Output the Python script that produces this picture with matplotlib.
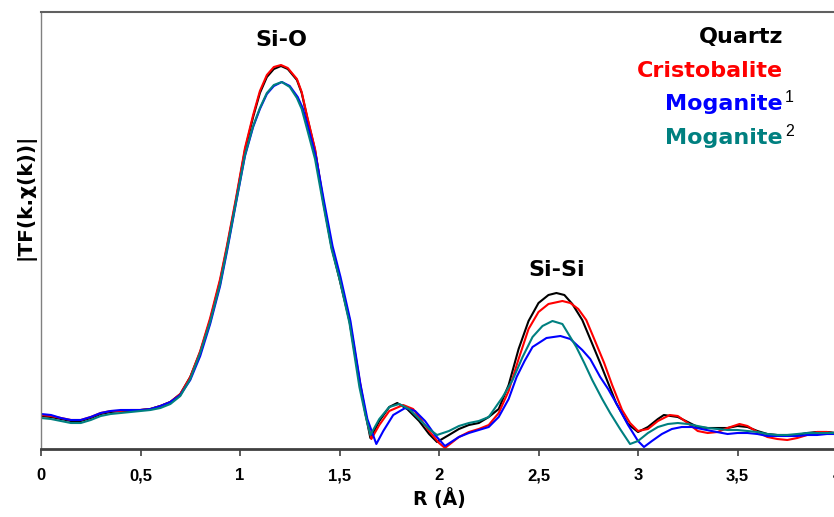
import matplotlib
matplotlib.use('Agg')
import matplotlib.pyplot as plt

plt.rcParams['font.family'] = ['DejaVu Sans']
plt.rcParams['font.weight'] = 'bold'

# R (Angstrom) and |TF| amplitude (arbitrary units)
r_quartz = [0, 0.05, 0.1, 0.15, 0.2, 0.25, 0.3, 0.35, 0.4, 0.45, 0.5, 0.55, 0.6, 0.65, 0.7,
            0.75, 0.8, 0.85, 0.9, 0.935, 0.98, 1.025, 1.066, 1.1, 1.135, 1.17, 1.206, 1.24,
            1.286, 1.31, 1.337, 1.377, 1.417, 1.46, 1.5, 1.55, 1.6, 1.63, 1.655,
            1.7, 1.75, 1.79, 1.84, 1.9, 1.95, 1.99, 2.05, 2.1, 2.15, 2.2, 2.25, 2.3, 2.35,
            2.4, 2.45, 2.5, 2.55, 2.59, 2.63, 2.67, 2.72, 2.76, 2.81, 2.85, 2.89, 2.95, 3.0,
            3.05, 3.1, 3.13, 3.2, 3.25, 3.3, 3.35, 3.4, 3.45, 3.5, 3.55, 3.6, 3.65, 3.7,
            3.75, 3.8, 3.85, 3.9, 3.95, 4.0]
a_quartz = [33, 32, 30, 28, 28, 31, 35, 37, 38, 38, 39, 40, 43, 47, 55,
            72, 97, 129, 168, 202, 249, 299, 332, 356, 372, 380, 383, 380,
            369, 356, 332, 299, 249, 202, 170, 128, 68, 36, 11,
            28, 42, 46, 40, 28, 15, 7, 14, 20, 24, 26, 32, 40, 64,
            100, 128, 146, 154, 156, 154, 145, 129, 110, 86, 66, 46, 25, 17,
            22, 30, 34, 32, 27, 22, 21, 21, 21, 23, 22, 18, 15, 14,
            14, 14, 16, 17, 17, 16]

r_cristo = [0, 0.05, 0.1, 0.15, 0.2, 0.25, 0.3, 0.35, 0.4, 0.45, 0.5, 0.55, 0.6, 0.65, 0.7,
            0.75, 0.8, 0.85, 0.9, 0.935, 0.98, 1.025, 1.066, 1.1, 1.135, 1.17, 1.206, 1.24,
            1.286, 1.31, 1.337, 1.377, 1.417, 1.46, 1.5, 1.55, 1.6, 1.63, 1.66,
            1.7, 1.75, 1.82, 1.87, 1.9, 1.95, 2.0, 2.03, 2.1, 2.15, 2.2, 2.25, 2.3, 2.35,
            2.4, 2.45, 2.5, 2.55, 2.62, 2.66, 2.7, 2.74, 2.78, 2.83, 2.87, 2.92, 2.96, 3.0,
            3.05, 3.1, 3.16, 3.2, 3.25, 3.3, 3.35, 3.4, 3.45, 3.51, 3.55, 3.6, 3.65, 3.7,
            3.75, 3.8, 3.85, 3.9, 3.95, 4.0]
a_cristo = [34, 33, 31, 29, 29, 32, 36, 38, 38, 39, 39, 40, 43, 47, 55,
            72, 98, 131, 170, 204, 251, 301, 334, 358, 374, 382, 384, 381,
            370, 357, 333, 300, 250, 203, 171, 130, 70, 36, 10,
            24, 38, 44, 40, 32, 18, 6, 1, 12, 17, 20, 24, 36, 58,
            90, 120, 137, 145, 148, 146, 140, 129, 110, 86, 64, 39, 26, 18,
            20, 28, 34, 33, 26, 18, 16, 17, 21, 25, 23, 17, 12, 10,
            9, 11, 14, 17, 17, 15]

r_mog1 = [0, 0.05, 0.1, 0.15, 0.2, 0.25, 0.3, 0.35, 0.4, 0.45, 0.5, 0.55, 0.6, 0.65, 0.7,
          0.75, 0.8, 0.85, 0.9, 0.935, 0.98, 1.025, 1.066, 1.1, 1.135, 1.17, 1.21, 1.25,
          1.29, 1.315, 1.342, 1.382, 1.422, 1.465, 1.505, 1.555, 1.605, 1.64, 1.685,
          1.72, 1.77, 1.83, 1.88, 1.93, 1.98, 2.03, 2.1, 2.15, 2.2, 2.25, 2.3, 2.35,
          2.39, 2.43, 2.47, 2.54, 2.61, 2.66, 2.72, 2.76, 2.81, 2.85, 2.89, 2.95, 3.0, 3.03,
          3.07, 3.12, 3.17, 3.22, 3.27, 3.32, 3.37, 3.45, 3.5, 3.55, 3.6, 3.65, 3.7,
          3.75, 3.8, 3.85, 3.9, 3.95, 4.0]
a_mog1 = [35, 34, 31, 29, 29, 32, 36, 38, 39, 39, 39, 40, 43, 47, 54,
          69, 93, 125, 163, 198, 246, 293, 322, 340, 355, 363, 367, 363,
          352, 341, 322, 292, 248, 203, 172, 128, 65, 30, 5,
          18, 34, 41, 38, 28, 14, 3, 12, 16, 19, 22, 32, 50,
          72, 88, 102, 111, 113, 110, 99, 90, 72, 60, 46, 24, 8, 2,
          8, 15, 20, 22, 22, 20, 18, 15, 16, 16, 15, 13, 13,
          13, 13, 14, 14, 15, 15]

r_mog2 = [0, 0.05, 0.1, 0.15, 0.2, 0.25, 0.3, 0.35, 0.4, 0.45, 0.5, 0.55, 0.6, 0.65, 0.7,
          0.75, 0.8, 0.85, 0.9, 0.935, 0.98, 1.025, 1.066, 1.1, 1.135, 1.17, 1.21, 1.25,
          1.286, 1.31, 1.337, 1.377, 1.417, 1.46, 1.5, 1.55, 1.6, 1.63, 1.655,
          1.7, 1.75, 1.8, 1.85, 1.9, 1.95, 1.99, 2.05, 2.1, 2.15, 2.2, 2.25, 2.32, 2.37,
          2.42, 2.47, 2.52, 2.57, 2.62, 2.69, 2.73, 2.77, 2.82, 2.86, 2.91, 2.96,
          3.0, 3.05, 3.1, 3.15, 3.2, 3.25, 3.3, 3.35, 3.4, 3.45, 3.5, 3.55, 3.6, 3.65,
          3.7, 3.75, 3.8, 3.85, 3.9, 3.95, 4.0]
a_mog2 = [31, 30, 28, 26, 26, 29, 33, 35, 36, 37, 38, 39, 41, 45, 53,
          70, 96, 127, 165, 200, 247, 294, 323, 341, 356, 364, 367, 362,
          351, 340, 320, 290, 246, 200, 170, 126, 62, 34, 14,
          30, 42, 45, 40, 30, 20, 14, 18, 23, 26, 28, 32, 52, 69,
          92, 112, 123, 128, 125, 102, 86, 69, 50, 36, 20, 5,
          8, 16, 22, 25, 26, 25, 23, 21, 20, 19, 19, 18, 17, 15,
          14, 14, 15, 16, 16, 16, 16]

series = [('Quartz', r_quartz, a_quartz, 'black'),
          ('Cristobalite', r_cristo, a_cristo, '#ff0000'),
          ('Moganite', r_mog1, a_mog1, '#0000ff'),
          ('Moganite', r_mog2, a_mog2, '#008080')]
sup = ['', '', '1', '2']
xticks = [0, 0.5, 1, 1.5, 2, 2.5, 3, 3.5, 4]
xticklabels = ['0', '0,5', '1', '1,5', '2', '2,5', '3', '3,5', '4']

fig = plt.figure(figsize=(8.34, 5.17), dpi=100)
ax = fig.add_axes([41/834, 68/517, 796/834, 437/517])

for name, r, a, c in series:
    ax.plot(r, a, color=c, lw=1.5)

ax.set_xlim(0, 4)
ax.set_ylim(0, 437)
ax.set_yticks([])
ax.set_xticks(xticks)
ax.set_xticklabels(xticklabels, fontsize=12, fontweight='bold', family='Liberation Sans')
ax.tick_params(axis='x', direction='out', length=5, width=1.2, color='#404040', pad=9)

ax.spines['bottom'].set_color('#404040')
ax.spines['bottom'].set_linewidth(2)
ax.spines['left'].set_color('#808080')
ax.spines['left'].set_linewidth(1)
ax.spines['top'].set_color('#606060')
ax.spines['top'].set_linewidth(1.5)
ax.spines['right'].set_visible(False)

ax.set_xlabel('R (Å)', fontsize=13.5, fontweight='bold', labelpad=3)
fig.text(26/834, 1 - 197/517, '|TF(k.χ(k))|', rotation=90, fontsize=14.5,
         fontweight='bold', ha='center', va='center')

ax.text(1.21, 409, 'Si-O', fontsize=16, fontweight='bold', ha='center', va='center')
ax.text(2.59, 179, 'Si-Si', fontsize=16, fontweight='bold', ha='center', va='center')

# legend as coloured text, right aligned
leg_y = [37, 71, 104, 138]
for (name, r, a, c), s, py in zip(series, sup, leg_y):
    fig.text(783/834, 1 - py/517, name, color=c, fontsize=16, fontweight='bold',
             ha='right', va='center')
    if s:
        fig.text(785/834, 1 - (py - 7)/517, s, color='black', fontsize=11.5,
                 fontweight='normal', family='Liberation Sans', ha='left', va='center')

fig.savefig('out.png', dpi=100)
